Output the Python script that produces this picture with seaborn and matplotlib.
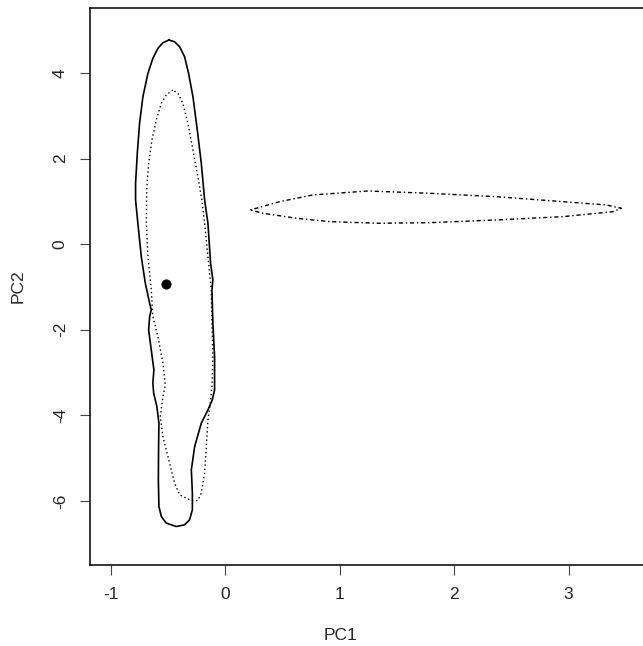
import matplotlib
matplotlib.use("Agg")
import matplotlib.pyplot as plt
import seaborn as sns

# outer contour (solid line), traced from the top going down the left side
solid_x = [-0.491, -0.543, -0.587, -0.631, -0.674, -0.718, -0.747, -0.767, -0.782, -0.782,
           -0.762, -0.732, -0.697, -0.659, -0.645, -0.659, -0.668, -0.645, -0.622, -0.631,
           -0.624, -0.596, -0.578, -0.581, -0.583, -0.578, -0.557, -0.514, -0.426, -0.354,
           -0.310, -0.286, -0.286, -0.295, -0.266, -0.208, -0.150, -0.112, -0.092, -0.092,
           -0.107, -0.115, -0.107, -0.127, -0.150, -0.179, -0.208, -0.243, -0.281, -0.319,
           -0.354, -0.397, -0.441]
solid_y = [4.771, 4.708, 4.577, 4.343, 3.993, 3.446, 2.825, 2.124, 1.423, 1.033,
           0.488, -0.292, -0.914, -1.381, -1.537, -1.694, -2.005, -2.472, -2.939, -3.250,
           -3.484, -3.797, -4.185, -4.731, -5.509, -6.133, -6.367, -6.521, -6.600, -6.561,
           -6.444, -6.210, -5.820, -5.276, -4.731, -4.185, -3.874, -3.640, -3.407, -2.629,
           -1.848, -1.070, -0.836, -0.446, 0.488, 1.033, 1.890, 2.668, 3.446, 3.993,
           4.381, 4.614, 4.731]

# inner contour (dotted line)
dotted_x = [-0.456, -0.514, -0.557, -0.601, -0.639, -0.668, -0.683, -0.686, -0.688, -0.674,
            -0.645, -0.631, -0.587, -0.543, -0.522, -0.543, -0.566, -0.543, -0.485, -0.441,
            -0.397, -0.295, -0.238, -0.208, -0.179, -0.164, -0.150, -0.129, -0.114, -0.107,
            -0.115, -0.121, -0.150, -0.179, -0.203, -0.238, -0.281, -0.325, -0.369, -0.412]
dotted_y = [3.603, 3.486, 3.292, 2.902, 2.435, 1.890, 1.343, 1.033, 0.488, -0.292,
            -1.070, -1.694, -2.161, -2.783, -3.290, -3.563, -4.030, -4.498, -5.119, -5.586,
            -5.860, -5.993, -5.993, -5.820, -5.353, -4.731, -4.107, -3.717, -3.290, -2.629,
            -1.848, -1.070, -0.292, 0.488, 1.033, 1.577, 2.201, 2.825, 3.292, 3.526]

# second group contour (dot-dash line)
dashdot_x = [0.220, 0.476, 0.767, 1.247, 1.786, 2.369, 2.950, 3.329, 3.460,
             3.387, 2.950, 2.369, 1.786, 1.349, 0.913, 0.622, 0.330]
dashdot_y = [0.799, 0.993, 1.150, 1.243, 1.189, 1.110, 0.993, 0.916, 0.839,
             0.759, 0.643, 0.565, 0.502, 0.488, 0.526, 0.605, 0.722]

center_x = [-0.517]
center_y = [-0.93]

x_ticks = [-1, 0, 1, 2, 3]
y_ticks = [-6, -4, -2, 0, 2, 4]

sns.set_style("white")
plt.rcParams['font.family'] = ['Liberation Sans', 'DejaVu Sans']
plt.rcParams['axes.unicode_minus'] = False

fig = plt.figure(figsize=(6.43, 6.46), dpi=100)
ax = fig.add_axes([90 / 643, 81 / 646, 572.5 / 643, 557 / 646])


def closed(v):
    return list(v) + [v[0]]


sns.lineplot(x=closed(solid_x), y=closed(solid_y), sort=False, estimator=None,
             color="black", lw=1.2, ax=ax)
sns.lineplot(x=closed(dotted_x), y=closed(dotted_y), sort=False, estimator=None,
             color="black", lw=1.0, linestyle=(0, (1, 2)), ax=ax)
sns.lineplot(x=closed(dashdot_x), y=closed(dashdot_y), sort=False, estimator=None,
             color="black", lw=1.0, linestyle=(0, (1, 2, 3, 2)), ax=ax)
sns.scatterplot(x=center_x, y=center_y, color="black", s=45, edgecolor="black", ax=ax)

ax.set_xlim(-1.18, 3.82)
ax.set_ylim(-7.5, 5.52)
ax.set_xticks(x_ticks)
ax.set_yticks(y_ticks)
ax.set_xticklabels([str(t) for t in x_ticks])
ax.set_yticklabels([str(t) for t in y_ticks], rotation=90, va="center")
ax.tick_params(axis="both", direction="out", length=7, width=0.8, color="#444444",
               labelsize=12.5, pad=9, bottom=True, left=True)
for s in ax.spines.values():
    s.set_color("black")
    s.set_linewidth(1.1)

ax.set_xlabel("PC1", fontsize=12.5, va="center", ha="center")
ax.set_ylabel("PC2", fontsize=12.5, va="center", ha="center")
ax.xaxis.set_label_coords(0.4384, -0.1257)
ax.yaxis.set_label_coords(-0.1258, 0.5)

fig.savefig("out.png", dpi=100)
